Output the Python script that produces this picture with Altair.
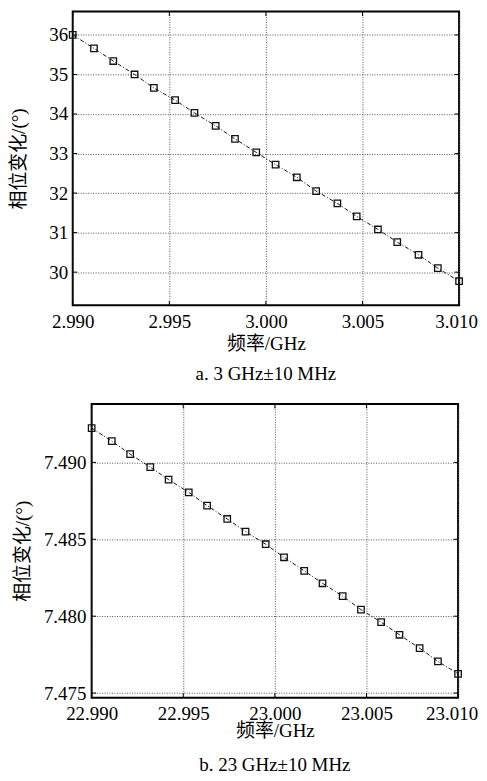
import altair as alt
import pandas as pd

# ---- data ----
freq_a = [2.9900, 2.9911, 2.9921, 2.9932, 2.9942, 2.9953, 2.9963, 2.9974, 2.9984, 2.9995,
          3.0005, 3.0016, 3.0026, 3.0037, 3.0047, 3.0058, 3.0068, 3.0079, 3.0089, 3.0100]
phase_a = [36.00, 35.66, 35.34, 35.00, 34.66, 34.35, 34.03, 33.70, 33.37, 33.03,
           32.72, 32.40, 32.05, 31.74, 31.41, 31.08, 30.76, 30.44, 30.10, 29.77]

freq_b = [22.9900, 22.9911, 22.9921, 22.9932, 22.9942, 22.9953, 22.9963, 22.9974, 22.9984, 22.9995,
          23.0005, 23.0016, 23.0026, 23.0037, 23.0047, 23.0058, 23.0068, 23.0079, 23.0089, 23.0100]
phase_b = [7.49223, 7.49138, 7.49054, 7.48969, 7.48888, 7.48805, 7.48719, 7.48632, 7.48550, 7.48468,
           7.48383, 7.48295, 7.48214, 7.48130, 7.48043, 7.47961, 7.47879, 7.47792, 7.47706, 7.47625]

xticks_a = [2.990, 2.995, 3.000, 3.005, 3.010]
yticks_a = [30, 31, 32, 33, 34, 35, 36]
xticks_b = [22.990, 22.995, 23.000, 23.005, 23.010]
yticks_b = [7.475, 7.480, 7.485, 7.490]

xdom_a = [2.990, 3.010]
ydom_a = [29.16, 36.59]
xdom_b = [22.990, 23.010]
ydom_b = [7.4747, 7.4938]

x_title = "频率/GHz"
y_title = "相位变化/(°)"
caption_a = "a. 3 GHz±10 MHz"
caption_b = "b. 23 GHz±10 MHz"

FONT = "Liberation Serif, Noto Sans CJK SC, serif"
FS = 19
H = 295
TICK_PX = 4.5


def panel(freq, phase, xticks, yticks, xdom, ydom, yfmt, caption, width,
          y_label_pad, y_title_pad, x_label_pad, x_title_pad, cap_offset, last_shift):
    df = pd.DataFrame({"f": freq, "p": phase})
    x = alt.X("f:Q",
              scale=alt.Scale(domain=xdom, nice=False, zero=False),
              axis=alt.Axis(values=xticks, format=".3f", title=x_title,
                            labelPadding=x_label_pad, titlePadding=x_title_pad,
                            labelFlush=False,
                            labelOffset={"condition": {"test": f"datum.value >= {xdom[1] - 1e-6}",
                                                       "value": last_shift},
                                         "value": 0}))
    y = alt.Y("p:Q",
              scale=alt.Scale(domain=ydom, nice=False, zero=False),
              axis=alt.Axis(values=yticks, format=yfmt, title=y_title,
                            labelPadding=y_label_pad, titlePadding=y_title_pad))
    base = alt.Chart(df).encode(x=x, y=y)
    line = base.mark_line(color="#111111", strokeWidth=1, strokeDash=[4, 2, 1, 2])
    pts = base.mark_point(shape="square", filled=False, size=42, color="#111111",
                          strokeWidth=1.3, opacity=1)

    # short inward tick marks on the frame (length in data units of TICK_PX pixels)
    tlx = TICK_PX * (xdom[1] - xdom[0]) / width
    tly = TICK_PX * (ydom[1] - ydom[0]) / H
    ly = pd.DataFrame({"f": [xdom[0]] * len(yticks), "f2": [xdom[0] + tlx] * len(yticks), "p": yticks})
    ry = pd.DataFrame({"f": [xdom[1]] * len(yticks), "f2": [xdom[1] - tlx] * len(yticks), "p": yticks})
    bx = pd.DataFrame({"f": xticks, "p": [ydom[0]] * len(xticks), "p2": [ydom[0] + tly] * len(xticks)})
    tx = pd.DataFrame({"f": xticks, "p": [ydom[1]] * len(xticks), "p2": [ydom[1] - tly] * len(xticks)})
    rk = dict(color="black", strokeWidth=1)
    t1 = alt.Chart(ly).mark_rule(**rk).encode(x=x, x2="f2:Q", y=y)
    t2 = alt.Chart(ry).mark_rule(**rk).encode(x=x, x2="f2:Q", y=y)
    t3 = alt.Chart(bx).mark_rule(**rk).encode(x=x, y=y, y2="p2:Q")
    t4 = alt.Chart(tx).mark_rule(**rk).encode(x=x, y=y, y2="p2:Q")

    return alt.layer(t1, t2, t3, t4, line, pts).properties(
        width=width, height=H,
        title=alt.TitleParams(caption, orient="bottom", offset=cap_offset,
                              font=FONT, fontSize=FS, fontWeight="normal", color="black"),
    )


def spacer():
    return alt.Chart(pd.DataFrame({"s": [0]})).mark_point(opacity=0, size=1).encode(
        x=alt.X("s:Q", axis=None), y=alt.Y("s:Q", axis=None)
    ).properties(width=1, height=1,
                 view=alt.ViewBackground(stroke="transparent", strokeWidth=0))


pa = panel(freq_a, phase_a, xticks_a, yticks_a, xdom_a, ydom_a, "d", caption_a, 388,
           y_label_pad=5, y_title_pad=20, x_label_pad=7.5, x_title_pad=3, cap_offset=11,
           last_shift=-3)
pb = panel(freq_b, phase_b, xticks_b, yticks_b, xdom_b, ydom_b, ".3f", caption_b, 368,
           y_label_pad=5.7, y_title_pad=11.3, x_label_pad=7, x_title_pad=-2, cap_offset=16,
           last_shift=-6.5)

row_a = alt.hconcat(spacer(), pa, spacing=0)
row_b = alt.hconcat(spacer(), pb, spacing=3)

chart = alt.vconcat(row_a, row_b, spacing=17).properties(
    padding={"left": 0, "top": 0, "right": 0, "bottom": -4}
).configure_view(
    stroke="black", strokeWidth=2
).configure_axis(
    labelFont=FONT, labelFontSize=FS, labelColor="black",
    titleFont=FONT, titleFontSize=FS, titleColor="black", titleFontWeight="normal",
    domain=False, ticks=False, tickSize=0,
    grid=True, gridColor="#555555", gridDash=[1, 1.5], gridWidth=1, gridOpacity=1,
)

chart.save("out.html", embed_options={"renderer": "svg", "actions": False})
